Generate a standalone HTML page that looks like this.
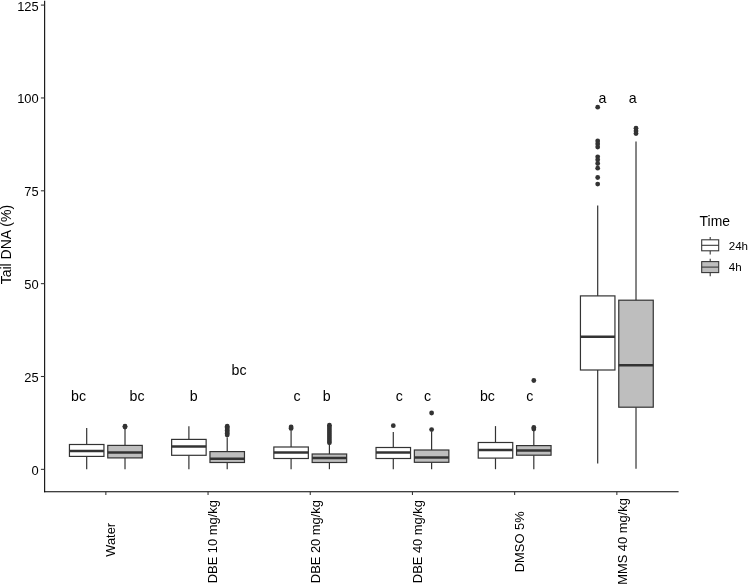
<!DOCTYPE html>
<html><head><meta charset="utf-8"><title>Tail DNA boxplot</title>
<style>html,body{margin:0;padding:0;background:#fff;overflow:hidden}svg{display:block}</style></head>
<body>
<svg width="748" height="585" viewBox="0 0 748 585">
<rect width="748" height="585" fill="#fff"/>
<g font-family="'Liberation Sans', Arial, sans-serif" fill="#000">
<line x1="86.69" x2="86.69" y1="428.00" y2="444.50" stroke="#333333" stroke-width="1.2"/>
<line x1="86.69" x2="86.69" y1="456.40" y2="469.20" stroke="#333333" stroke-width="1.2"/>
<rect x="69.44" y="444.50" width="34.50" height="11.90" fill="#fff" stroke="#333333" stroke-width="1.2"/>
<line x1="69.44" x2="103.94" y1="451.00" y2="451.00" stroke="#333333" stroke-width="2.5"/>
<circle cx="125.01" cy="426.20" r="2.4" fill="#333333"/>
<circle cx="125.01" cy="427.00" r="2.4" fill="#333333"/>
<line x1="125.01" x2="125.01" y1="429.00" y2="445.40" stroke="#333333" stroke-width="1.2"/>
<line x1="125.01" x2="125.01" y1="457.90" y2="469.20" stroke="#333333" stroke-width="1.2"/>
<rect x="107.76" y="445.40" width="34.50" height="12.50" fill="#bebebe" stroke="#333333" stroke-width="1.2"/>
<line x1="107.76" x2="142.26" y1="452.40" y2="452.40" stroke="#333333" stroke-width="2.5"/>
<line x1="188.89" x2="188.89" y1="426.20" y2="439.40" stroke="#333333" stroke-width="1.2"/>
<line x1="188.89" x2="188.89" y1="455.30" y2="469.20" stroke="#333333" stroke-width="1.2"/>
<rect x="171.64" y="439.40" width="34.50" height="15.90" fill="#fff" stroke="#333333" stroke-width="1.2"/>
<line x1="171.64" x2="206.14" y1="446.50" y2="446.50" stroke="#333333" stroke-width="2.5"/>
<circle cx="227.21" cy="426.20" r="2.4" fill="#333333"/>
<circle cx="227.21" cy="427.50" r="2.4" fill="#333333"/>
<circle cx="227.21" cy="429.00" r="2.4" fill="#333333"/>
<circle cx="227.21" cy="430.50" r="2.4" fill="#333333"/>
<circle cx="227.21" cy="432.00" r="2.4" fill="#333333"/>
<circle cx="227.21" cy="433.50" r="2.4" fill="#333333"/>
<circle cx="227.21" cy="435.00" r="2.4" fill="#333333"/>
<line x1="227.21" x2="227.21" y1="437.60" y2="451.60" stroke="#333333" stroke-width="1.2"/>
<line x1="227.21" x2="227.21" y1="462.50" y2="469.20" stroke="#333333" stroke-width="1.2"/>
<rect x="209.96" y="451.60" width="34.50" height="10.90" fill="#bebebe" stroke="#333333" stroke-width="1.2"/>
<line x1="209.96" x2="244.46" y1="458.80" y2="458.80" stroke="#333333" stroke-width="2.5"/>
<circle cx="291.09" cy="427.00" r="2.4" fill="#333333"/>
<circle cx="291.09" cy="428.50" r="2.4" fill="#333333"/>
<line x1="291.09" x2="291.09" y1="431.00" y2="447.00" stroke="#333333" stroke-width="1.2"/>
<line x1="291.09" x2="291.09" y1="458.50" y2="469.20" stroke="#333333" stroke-width="1.2"/>
<rect x="273.84" y="447.00" width="34.50" height="11.50" fill="#fff" stroke="#333333" stroke-width="1.2"/>
<line x1="273.84" x2="308.34" y1="452.50" y2="452.50" stroke="#333333" stroke-width="2.5"/>
<circle cx="329.41" cy="425.20" r="2.4" fill="#333333"/>
<circle cx="329.41" cy="427.00" r="2.4" fill="#333333"/>
<circle cx="329.41" cy="429.00" r="2.4" fill="#333333"/>
<circle cx="329.41" cy="431.00" r="2.4" fill="#333333"/>
<circle cx="329.41" cy="433.00" r="2.4" fill="#333333"/>
<circle cx="329.41" cy="435.00" r="2.4" fill="#333333"/>
<circle cx="329.41" cy="437.00" r="2.4" fill="#333333"/>
<circle cx="329.41" cy="439.00" r="2.4" fill="#333333"/>
<circle cx="329.41" cy="441.00" r="2.4" fill="#333333"/>
<circle cx="329.41" cy="442.80" r="2.4" fill="#333333"/>
<line x1="329.41" x2="329.41" y1="445.00" y2="454.00" stroke="#333333" stroke-width="1.2"/>
<line x1="329.41" x2="329.41" y1="462.50" y2="469.20" stroke="#333333" stroke-width="1.2"/>
<rect x="312.16" y="454.00" width="34.50" height="8.50" fill="#bebebe" stroke="#333333" stroke-width="1.2"/>
<line x1="312.16" x2="346.66" y1="458.00" y2="458.00" stroke="#333333" stroke-width="2.5"/>
<circle cx="393.29" cy="425.70" r="2.4" fill="#333333"/>
<line x1="393.29" x2="393.29" y1="432.00" y2="447.50" stroke="#333333" stroke-width="1.2"/>
<line x1="393.29" x2="393.29" y1="458.50" y2="469.20" stroke="#333333" stroke-width="1.2"/>
<rect x="376.04" y="447.50" width="34.50" height="11.00" fill="#fff" stroke="#333333" stroke-width="1.2"/>
<line x1="376.04" x2="410.54" y1="452.50" y2="452.50" stroke="#333333" stroke-width="2.5"/>
<circle cx="431.61" cy="413.00" r="2.4" fill="#333333"/>
<circle cx="431.61" cy="429.60" r="2.4" fill="#333333"/>
<line x1="431.61" x2="431.61" y1="431.70" y2="450.00" stroke="#333333" stroke-width="1.2"/>
<line x1="431.61" x2="431.61" y1="462.30" y2="469.20" stroke="#333333" stroke-width="1.2"/>
<rect x="414.36" y="450.00" width="34.50" height="12.30" fill="#bebebe" stroke="#333333" stroke-width="1.2"/>
<line x1="414.36" x2="448.86" y1="457.50" y2="457.50" stroke="#333333" stroke-width="2.5"/>
<line x1="495.49" x2="495.49" y1="426.10" y2="442.50" stroke="#333333" stroke-width="1.2"/>
<line x1="495.49" x2="495.49" y1="458.10" y2="469.20" stroke="#333333" stroke-width="1.2"/>
<rect x="478.24" y="442.50" width="34.50" height="15.60" fill="#fff" stroke="#333333" stroke-width="1.2"/>
<line x1="478.24" x2="512.74" y1="449.90" y2="449.90" stroke="#333333" stroke-width="2.5"/>
<circle cx="533.81" cy="380.50" r="2.4" fill="#333333"/>
<circle cx="533.81" cy="427.50" r="2.4" fill="#333333"/>
<circle cx="533.81" cy="429.00" r="2.4" fill="#333333"/>
<line x1="533.81" x2="533.81" y1="431.00" y2="445.60" stroke="#333333" stroke-width="1.2"/>
<line x1="533.81" x2="533.81" y1="455.20" y2="469.20" stroke="#333333" stroke-width="1.2"/>
<rect x="516.56" y="445.60" width="34.50" height="9.60" fill="#bebebe" stroke="#333333" stroke-width="1.2"/>
<line x1="516.56" x2="551.06" y1="450.50" y2="450.50" stroke="#333333" stroke-width="2.5"/>
<circle cx="597.69" cy="107.20" r="2.4" fill="#333333"/>
<circle cx="597.69" cy="141.00" r="2.4" fill="#333333"/>
<circle cx="597.69" cy="144.00" r="2.4" fill="#333333"/>
<circle cx="597.69" cy="147.10" r="2.4" fill="#333333"/>
<circle cx="597.69" cy="156.80" r="2.4" fill="#333333"/>
<circle cx="597.69" cy="159.80" r="2.4" fill="#333333"/>
<circle cx="597.69" cy="163.50" r="2.4" fill="#333333"/>
<circle cx="597.69" cy="168.20" r="2.4" fill="#333333"/>
<circle cx="597.69" cy="177.50" r="2.4" fill="#333333"/>
<circle cx="597.69" cy="184.10" r="2.4" fill="#333333"/>
<line x1="597.69" x2="597.69" y1="205.60" y2="295.90" stroke="#333333" stroke-width="1.2"/>
<line x1="597.69" x2="597.69" y1="370.00" y2="463.60" stroke="#333333" stroke-width="1.2"/>
<rect x="580.44" y="295.90" width="34.50" height="74.10" fill="#fff" stroke="#333333" stroke-width="1.2"/>
<line x1="580.44" x2="614.94" y1="336.70" y2="336.70" stroke="#333333" stroke-width="2.5"/>
<circle cx="636.01" cy="128.20" r="2.4" fill="#333333"/>
<circle cx="636.01" cy="130.90" r="2.4" fill="#333333"/>
<circle cx="636.01" cy="133.60" r="2.4" fill="#333333"/>
<line x1="636.01" x2="636.01" y1="141.50" y2="300.20" stroke="#333333" stroke-width="1.2"/>
<line x1="636.01" x2="636.01" y1="407.20" y2="468.70" stroke="#333333" stroke-width="1.2"/>
<rect x="618.76" y="300.20" width="34.50" height="107.00" fill="#bebebe" stroke="#333333" stroke-width="1.2"/>
<line x1="618.76" x2="653.26" y1="365.20" y2="365.20" stroke="#333333" stroke-width="2.5"/>
<text x="78.50" y="400.50" font-size="14.2" text-anchor="middle">bc</text>
<text x="137.00" y="400.50" font-size="14.2" text-anchor="middle">bc</text>
<text x="193.70" y="400.50" font-size="14.2" text-anchor="middle">b</text>
<text x="239.00" y="374.50" font-size="14.2" text-anchor="middle">bc</text>
<text x="297.10" y="400.50" font-size="14.2" text-anchor="middle">c</text>
<text x="326.60" y="400.50" font-size="14.2" text-anchor="middle">b</text>
<text x="399.40" y="400.50" font-size="14.2" text-anchor="middle">c</text>
<text x="427.50" y="400.50" font-size="14.2" text-anchor="middle">c</text>
<text x="487.40" y="400.50" font-size="14.2" text-anchor="middle">bc</text>
<text x="529.80" y="400.50" font-size="14.2" text-anchor="middle">c</text>
<text x="602.50" y="102.60" font-size="14.2" text-anchor="middle">a</text>
<text x="632.70" y="102.60" font-size="14.2" text-anchor="middle">a</text>
<line x1="44.65" x2="44.65" y1="0.7" y2="492.3" stroke="#000" stroke-width="1.07"/>
<line x1="44.1" x2="678.6" y1="491.8" y2="491.8" stroke="#000" stroke-width="1.07"/>
<line x1="40.9" x2="44.65" y1="469.35" y2="469.35" stroke="#333333" stroke-width="1.07"/>
<text x="38.7" y="474.75" font-size="12.9" text-anchor="end">0</text>
<line x1="40.9" x2="44.65" y1="376.50" y2="376.50" stroke="#333333" stroke-width="1.07"/>
<text x="38.7" y="381.90" font-size="12.9" text-anchor="end">25</text>
<line x1="40.9" x2="44.65" y1="283.65" y2="283.65" stroke="#333333" stroke-width="1.07"/>
<text x="38.7" y="289.05" font-size="12.9" text-anchor="end">50</text>
<line x1="40.9" x2="44.65" y1="190.80" y2="190.80" stroke="#333333" stroke-width="1.07"/>
<text x="38.7" y="196.20" font-size="12.9" text-anchor="end">75</text>
<line x1="40.9" x2="44.65" y1="97.95" y2="97.95" stroke="#333333" stroke-width="1.07"/>
<text x="38.7" y="103.35" font-size="12.9" text-anchor="end">100</text>
<line x1="40.9" x2="44.65" y1="5.10" y2="5.10" stroke="#333333" stroke-width="1.07"/>
<text x="38.7" y="10.50" font-size="12.9" text-anchor="end">125</text>
<line x1="105.85" x2="105.85" y1="491.8" y2="495.0" stroke="#333333" stroke-width="1.07"/>
<text transform="translate(115.40,539.8) rotate(-90)" font-size="12.9" text-anchor="middle">Water</text>
<line x1="208.05" x2="208.05" y1="491.8" y2="495.0" stroke="#333333" stroke-width="1.07"/>
<text transform="translate(217.35,541.7) rotate(-90)" font-size="12.9" text-anchor="middle">DBE 10 mg/kg</text>
<line x1="310.25" x2="310.25" y1="491.8" y2="495.0" stroke="#333333" stroke-width="1.07"/>
<text transform="translate(319.55,541.6) rotate(-90)" font-size="12.9" text-anchor="middle">DBE 20 mg/kg</text>
<line x1="412.45" x2="412.45" y1="491.8" y2="495.0" stroke="#333333" stroke-width="1.07"/>
<text transform="translate(422.05,541.6) rotate(-90)" font-size="12.9" text-anchor="middle">DBE 40 mg/kg</text>
<line x1="514.65" x2="514.65" y1="491.8" y2="495.0" stroke="#333333" stroke-width="1.07"/>
<text transform="translate(524.25,541.8) rotate(-90)" font-size="12.9" text-anchor="middle">DMSO 5%</text>
<line x1="616.85" x2="616.85" y1="491.8" y2="495.0" stroke="#333333" stroke-width="1.07"/>
<text transform="translate(626.65,541.5) rotate(-90)" font-size="12.9" text-anchor="middle">MMS 40 mg/kg</text>
<text transform="translate(11.4,244.6) rotate(-90)" font-size="14" text-anchor="middle">Tail DNA (%)</text>
<text x="699.6" y="226.2" font-size="13.9">Time</text>
<line x1="710.2" x2="710.2" y1="236.98" y2="254.42" stroke="#333333" stroke-width="1.07"/>
<rect x="701.70" y="239.80" width="17" height="11.0" fill="#fff" stroke="#333333" stroke-width="1.07"/>
<line x1="701.70" x2="718.70" y1="245.30" y2="245.30" stroke="#333333" stroke-width="1.07"/>
<text x="728.7" y="249.60" font-size="11.6">24h</text>
<line x1="710.2" x2="710.2" y1="258.78" y2="276.22" stroke="#333333" stroke-width="1.07"/>
<rect x="701.70" y="261.60" width="17" height="11.0" fill="#bebebe" stroke="#333333" stroke-width="1.07"/>
<line x1="701.70" x2="718.70" y1="267.10" y2="267.10" stroke="#333333" stroke-width="1.07"/>
<text x="728.7" y="271.40" font-size="11.6">4h</text>
</g></svg>
</body></html>
